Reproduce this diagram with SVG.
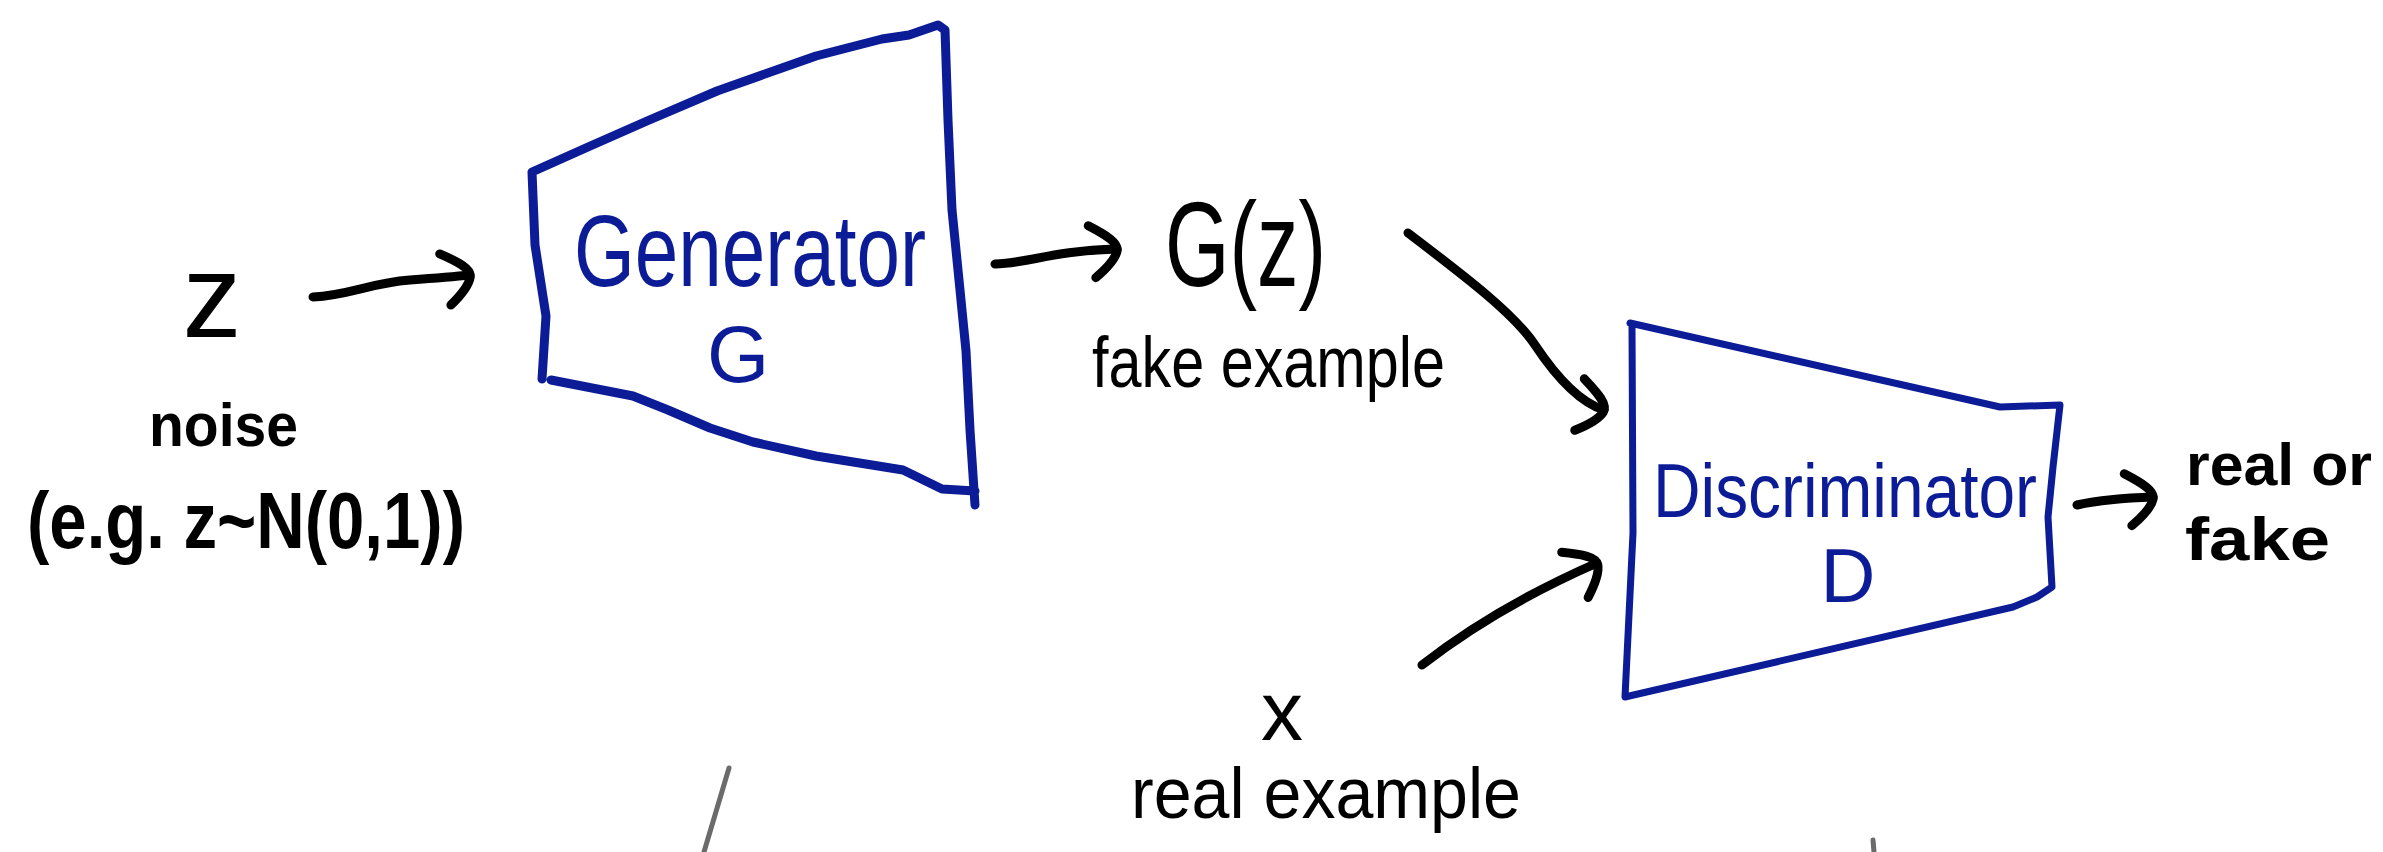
<svg xmlns="http://www.w3.org/2000/svg" width="2383" height="852" viewBox="0 0 2383 852">
<style>
.box{fill:none;stroke:#0b1c96;stroke-linecap:round;stroke-linejoin:round}
.conn{fill:none;stroke:#000;stroke-width:9;stroke-linecap:round;stroke-linejoin:round}
.lbl{font-family:"Liberation Sans",Arial,sans-serif;fill:#000}
.bt{font-family:"Liberation Sans",Arial,sans-serif;fill:#0b1c96}
.stray{fill:none;stroke:#6b6b6b;stroke-width:5;stroke-linecap:round}
</style>
<defs>
<marker id="ah" markerUnits="userSpaceOnUse" markerWidth="90" markerHeight="90" viewBox="-45 -45 90 90" refX="0" refY="0" orient="auto" overflow="visible">
<path d="M -28 -24 C -10 -14 2 -6 0 2 C -2 10 -12 20 -22 28" fill="none" stroke="#000" stroke-width="9" stroke-linecap="round" stroke-linejoin="round"/>
</marker>
</defs>
<rect width="2383" height="852" fill="#fff"/>

<g id="connectors">
<path class="conn" d="M 313 297 C 350 295 370 283 410 280 S 450 277 470 275" marker-end="url(#ah)"/>
<path class="conn" d="M 995 264 C 1030 263 1050 251 1117 249" marker-end="url(#ah)"/>
<path class="conn" d="M 1408 233 C 1470 280 1515 315 1535 345 S 1578 402 1604 410" marker-end="url(#ah)"/>
<path class="conn" d="M 1422 665 C 1480 620 1540 588 1597 563" marker-end="url(#ah)"/>
<path class="conn" d="M 2077 505 C 2100 500 2120 498 2153 497" marker-end="url(#ah)"/>
</g>

<g id="z">
<text class="lbl" x="212" y="337" font-size="118" text-anchor="middle">z</text>
<text class="lbl" x="149" y="446" font-size="62" font-weight="bold" textLength="149" lengthAdjust="spacingAndGlyphs">noise</text>
<text class="lbl" x="27" y="548" font-size="80" font-weight="bold" textLength="438" lengthAdjust="spacingAndGlyphs">(e.g. z~N(0,1))</text>
</g>

<g id="generator">
<path class="box" stroke-width="9" d="M 532 172 L 588 147 L 647 121 L 717 91 L 816 56 L 882 39 L 909 35 L 938 25 L 945 30 L 948 120 L 952 210 L 960 290 L 966 351 L 970 430 L 975 505 M 975 491 L 942 489 L 903 470 L 816 456 L 753 442 L 710 428 L 668 410 L 633 396 L 551 380 M 542 379 L 546 316 L 535 245 L 532 172"/>
<text class="bt" x="574" y="286" font-size="102" textLength="352" lengthAdjust="spacingAndGlyphs">Generator</text>
<text class="bt" x="738" y="382" font-size="80" text-anchor="middle">G</text>
</g>

<g id="gz">
<text class="lbl" x="1165" y="286" font-size="120" textLength="161" lengthAdjust="spacingAndGlyphs">G(z)</text>
<text class="lbl" x="1092" y="387" font-size="72" textLength="353" lengthAdjust="spacingAndGlyphs">fake example</text>
</g>

<g id="discriminator">
<path class="box" stroke-width="7" d="M 1630 323 L 2000 407 L 2060 405 L 2053 467 L 2048 517 L 2052 587 L 2037 597 L 2013 607 L 1625 697 L 1633 533 L 1632 327"/>
<text class="bt" x="1653" y="517" font-size="76" textLength="384" lengthAdjust="spacingAndGlyphs">Discriminator</text>
<text class="bt" x="1848" y="602" font-size="76" text-anchor="middle">D</text>
</g>

<g id="x">
<text class="lbl" x="1282" y="740" font-size="84" text-anchor="middle">x</text>
<text class="lbl" x="1131" y="818" font-size="72" textLength="390" lengthAdjust="spacingAndGlyphs">real example</text>
</g>

<g id="output">
<text class="lbl" x="2186" y="485" font-size="60" font-weight="bold" textLength="186" lengthAdjust="spacingAndGlyphs">real or</text>
<text class="lbl" x="2185" y="560" font-size="62" font-weight="bold" textLength="145" lengthAdjust="spacingAndGlyphs">fake</text>
</g>

<line class="stray" x1="729" y1="768" x2="704" y2="852"/>
<line class="stray" x1="1873" y1="840" x2="1874" y2="852"/>
</svg>
